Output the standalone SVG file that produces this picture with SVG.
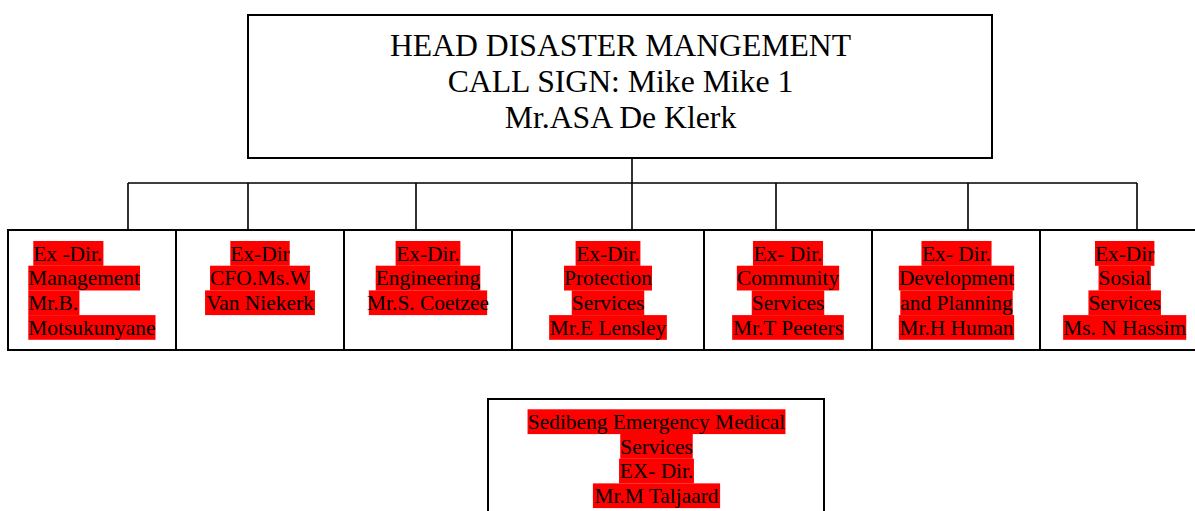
<svg xmlns="http://www.w3.org/2000/svg" width="1195" height="511" viewBox="0 0 1195 511">
<style>
.box{fill:#fff;stroke:#000;stroke-width:2}
.con{fill:none;stroke:#000;stroke-width:1.6}
.hl{fill:#ff0000}
.t{font-family:"Liberation Serif","Times New Roman",serif;font-size:21.4px;fill:#000}
.c{text-anchor:middle}
.h{font-family:"Liberation Serif","Times New Roman",serif;font-size:31.7px;fill:#000;text-anchor:middle}
</style>
<rect width="1195" height="511" fill="#fff"/>
<g id="connectors">
<path class="con" d="M632,158V183M128,183H1137M128,183V230M248,183V230M416,183V230M632,183V230M776,183V230M968,183V230M1137,183V230"/>
</g>
<g id="head">
<rect class="box" x="248" y="15" width="744" height="143"/>
<text class="h" x="620.5" y="55.7">HEAD DISASTER MANGEMENT</text>
<text class="h" x="620.5" y="92">CALL SIGN: Mike Mike 1</text>
<text class="h" x="620.5" y="128.3">Mr.ASA De Klerk</text>
</g>
<g id="management">
<rect class="box" x="8" y="230" width="168" height="120"/>
<rect class="hl" x="33.3" y="241" width="70.1" height="24.8"/>
<rect class="hl" x="28.3" y="265.7" width="111.7" height="24.8"/>
<rect class="hl" x="28.3" y="290.4" width="51.1" height="24.8"/>
<rect class="hl" x="28.3" y="315.1" width="127.2" height="24.7"/>
<text class="t" x="33.3" y="260.6">Ex -Dir.</text>
<text class="t" x="28.3" y="285.3">Management</text>
<text class="t" x="28.3" y="310">Mr.B.</text>
<text class="t" x="28.3" y="334.7">Motsukunyane</text>
</g>
<g id="cfo">
<rect class="box" x="176" y="230" width="168" height="120"/>
<rect class="hl" x="230.3" y="241" width="59.4" height="24.8"/>
<rect class="hl" x="210.05" y="265.7" width="99.9" height="24.8"/>
<rect class="hl" x="205.05" y="290.4" width="109.9" height="24.7"/>
<text class="t c" x="260" y="260.6">Ex-Dir</text>
<text class="t c" x="260" y="285.3">CFO.Ms.W</text>
<text class="t c" x="260" y="310">Van Niekerk</text>
</g>
<g id="engineering">
<rect class="box" x="344" y="230" width="168" height="120"/>
<rect class="hl" x="395.6" y="241" width="64.8" height="24.8"/>
<rect class="hl" x="375.7" y="265.7" width="104.6" height="24.8"/>
<rect class="hl" x="368.85" y="290.4" width="118.3" height="24.7"/>
<text class="t c" x="428" y="260.6">Ex-Dir.</text>
<text class="t c" x="428" y="285.3">Engineering</text>
<text class="t c" x="428" y="310">Mr.S. Coetzee</text>
</g>
<g id="protection">
<rect class="box" x="512" y="230" width="192" height="120"/>
<rect class="hl" x="575.6" y="241" width="64.8" height="24.8"/>
<rect class="hl" x="564" y="265.7" width="88" height="24.8"/>
<rect class="hl" x="571.75" y="290.4" width="72.5" height="24.8"/>
<rect class="hl" x="549.15" y="315.1" width="117.7" height="24.7"/>
<text class="t c" x="608" y="260.6">Ex-Dir.</text>
<text class="t c" x="608" y="285.3">Protection</text>
<text class="t c" x="608" y="310">Services</text>
<text class="t c" x="608" y="334.7">Mr.E Lensley</text>
</g>
<g id="community">
<rect class="box" x="704" y="230" width="168" height="120"/>
<rect class="hl" x="752.95" y="241" width="70.1" height="24.8"/>
<rect class="hl" x="736.85" y="265.7" width="102.3" height="24.8"/>
<rect class="hl" x="751.75" y="290.4" width="72.5" height="24.8"/>
<rect class="hl" x="732.15" y="315.1" width="111.7" height="24.7"/>
<text class="t c" x="788" y="260.6">Ex- Dir.</text>
<text class="t c" x="788" y="285.3">Community</text>
<text class="t c" x="788" y="310">Services</text>
<text class="t c" x="788" y="334.7">Mr.T Peeters</text>
</g>
<g id="development">
<rect class="box" x="872" y="230" width="168" height="120"/>
<rect class="hl" x="921.45" y="241" width="70.1" height="24.8"/>
<rect class="hl" x="898.85" y="265.7" width="115.3" height="24.8"/>
<rect class="hl" x="900.3" y="290.4" width="112.4" height="24.8"/>
<rect class="hl" x="898.85" y="315.1" width="115.3" height="24.7"/>
<text class="t c" x="956.5" y="260.6">Ex- Dir.</text>
<text class="t c" x="956.5" y="285.3">Development</text>
<text class="t c" x="956.5" y="310">and Planning</text>
<text class="t c" x="956.5" y="334.7">Mr.H Human</text>
</g>
<g id="social">
<rect class="box" x="1040" y="230" width="168" height="120"/>
<rect class="hl" x="1095" y="241" width="59.4" height="24.8"/>
<rect class="hl" x="1098.55" y="265.7" width="52.3" height="24.8"/>
<rect class="hl" x="1088.45" y="290.4" width="72.5" height="24.8"/>
<rect class="hl" x="1063.15" y="315.1" width="123.1" height="24.7"/>
<text class="t c" x="1124.7" y="260.6">Ex-Dir</text>
<text class="t c" x="1124.7" y="285.3">Sosial</text>
<text class="t c" x="1124.7" y="310">Services</text>
<text class="t c" x="1124.7" y="334.7">Ms. N Hassim</text>
</g>
<g id="ems">
<rect class="box" x="488" y="399" width="336" height="140"/>
<rect class="hl" x="527.55" y="409.3" width="257.9" height="24.8"/>
<rect class="hl" x="620.25" y="434" width="72.5" height="24.8"/>
<rect class="hl" x="619.05" y="458.7" width="74.9" height="24.8"/>
<rect class="hl" x="592.9" y="483.4" width="127.2" height="24.7"/>
<text class="t c" x="656.5" y="428.9">Sedibeng Emergency Medical</text>
<text class="t c" x="656.5" y="453.6">Services</text>
<text class="t c" x="656.5" y="478.3">EX- Dir.</text>
<text class="t c" x="656.5" y="503">Mr.M Taljaard</text>
</g>
</svg>
